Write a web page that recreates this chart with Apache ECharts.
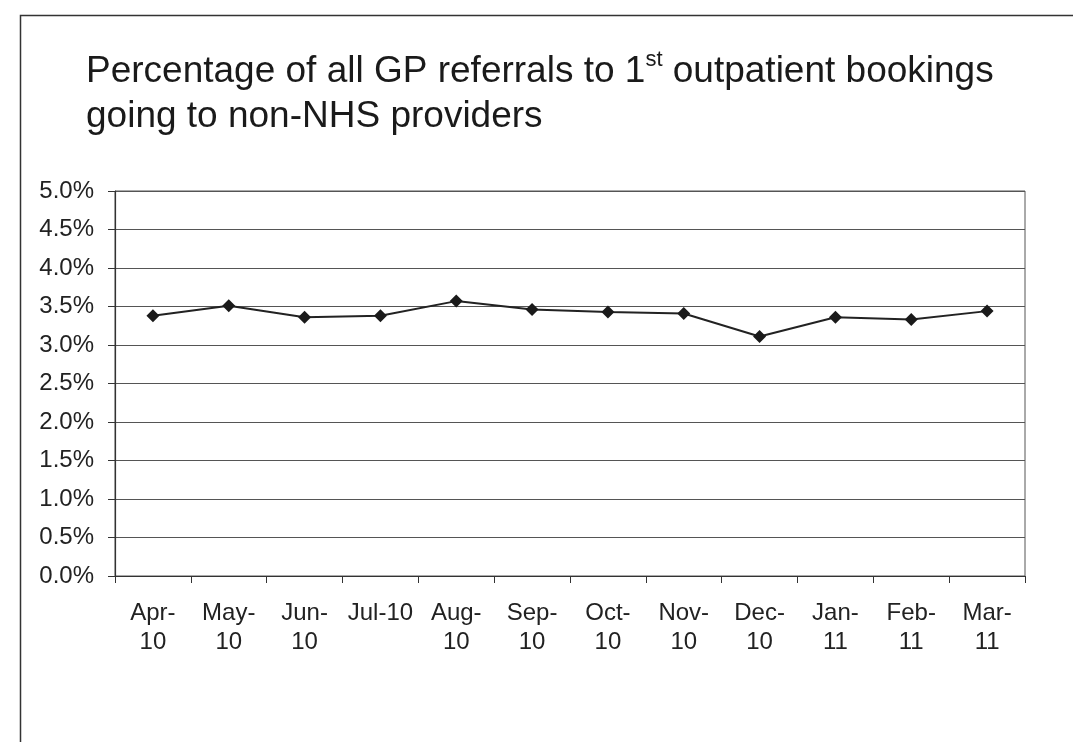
<!DOCTYPE html>
<html><head><meta charset="utf-8">
<script src="https://cdn.jsdelivr.net/npm/echarts@6/dist/echarts.min.js"></script>
<style>html,body{margin:0;padding:0;background:#fff}#c{width:1073px;height:742px}</style>
</head><body><div id="c"></div>
<script>
const categories = ['Apr-\n10','May-\n10','Jun-\n10','Jul-10','Aug-\n10','Sep-\n10','Oct-\n10','Nov-\n10','Dec-\n10','Jan-\n11','Feb-\n11','Mar-\n11'];
const values = [3.38, 3.51, 3.36, 3.38, 3.57, 3.46, 3.43, 3.41, 3.11, 3.36, 3.33, 3.44];
const yMin = 0, yMax = 5, yStep = 0.5;

const chart = echarts.init(document.getElementById('c'));
const font = 'Liberation Sans, Arial, sans-serif';
chart.setOption({
  backgroundColor: '#fff',
  animation: false,
  graphic: [
    {type:'rect', left:18, top:13, shape:{width:1200, height:900}, style:{fill:'none', stroke:'#333', lineWidth:1.5}, silent:true},
    {type:'text', left:86, top:49, style:{
      rich:{
        n:{fontSize:37, fontFamily:font, fill:'#1a1a1a', lineHeight:45},
        s:{fontSize:22, fontFamily:font, fill:'#1a1a1a', verticalAlign:'top', padding:[0,0,14,0], lineHeight:45}
      },
      text:'{n|Percentage of all GP referrals to 1}{s|st}{n| outpatient bookings}\n{n|going to non-NHS providers}'
    }}
  ],
  grid: {left:115, right:48, top:191, bottom:166, show:true, borderColor:'#555', borderWidth:1},
  xAxis: {
    type:'category', data:categories, boundaryGap:true,
    axisLine:{lineStyle:{color:'#333', width:1.2}},
    axisTick:{show:true, alignWithLabel:false, length:7, lineStyle:{color:'#333'}},
    axisLabel:{color:'#222', fontSize:24, fontFamily:font, margin:23, lineHeight:29, interval:0}
  },
  yAxis: {
    type:'value', min:yMin, max:yMax, interval:yStep,
    axisLine:{show:true, lineStyle:{color:'#333', width:1.2}},
    axisTick:{show:true, length:7, lineStyle:{color:'#333'}},
    splitLine:{lineStyle:{color:'#555', width:1}},
    axisLabel:{color:'#222', fontSize:24, fontFamily:font, margin:21, formatter:v=>v.toFixed(1)+'%'}
  },
  series: [{
    type:'line', data:values, symbol:'diamond', symbolSize:13,
    lineStyle:{color:'#222', width:2}, itemStyle:{color:'#1a1a1a'}
  }]
});
</script></body></html>
